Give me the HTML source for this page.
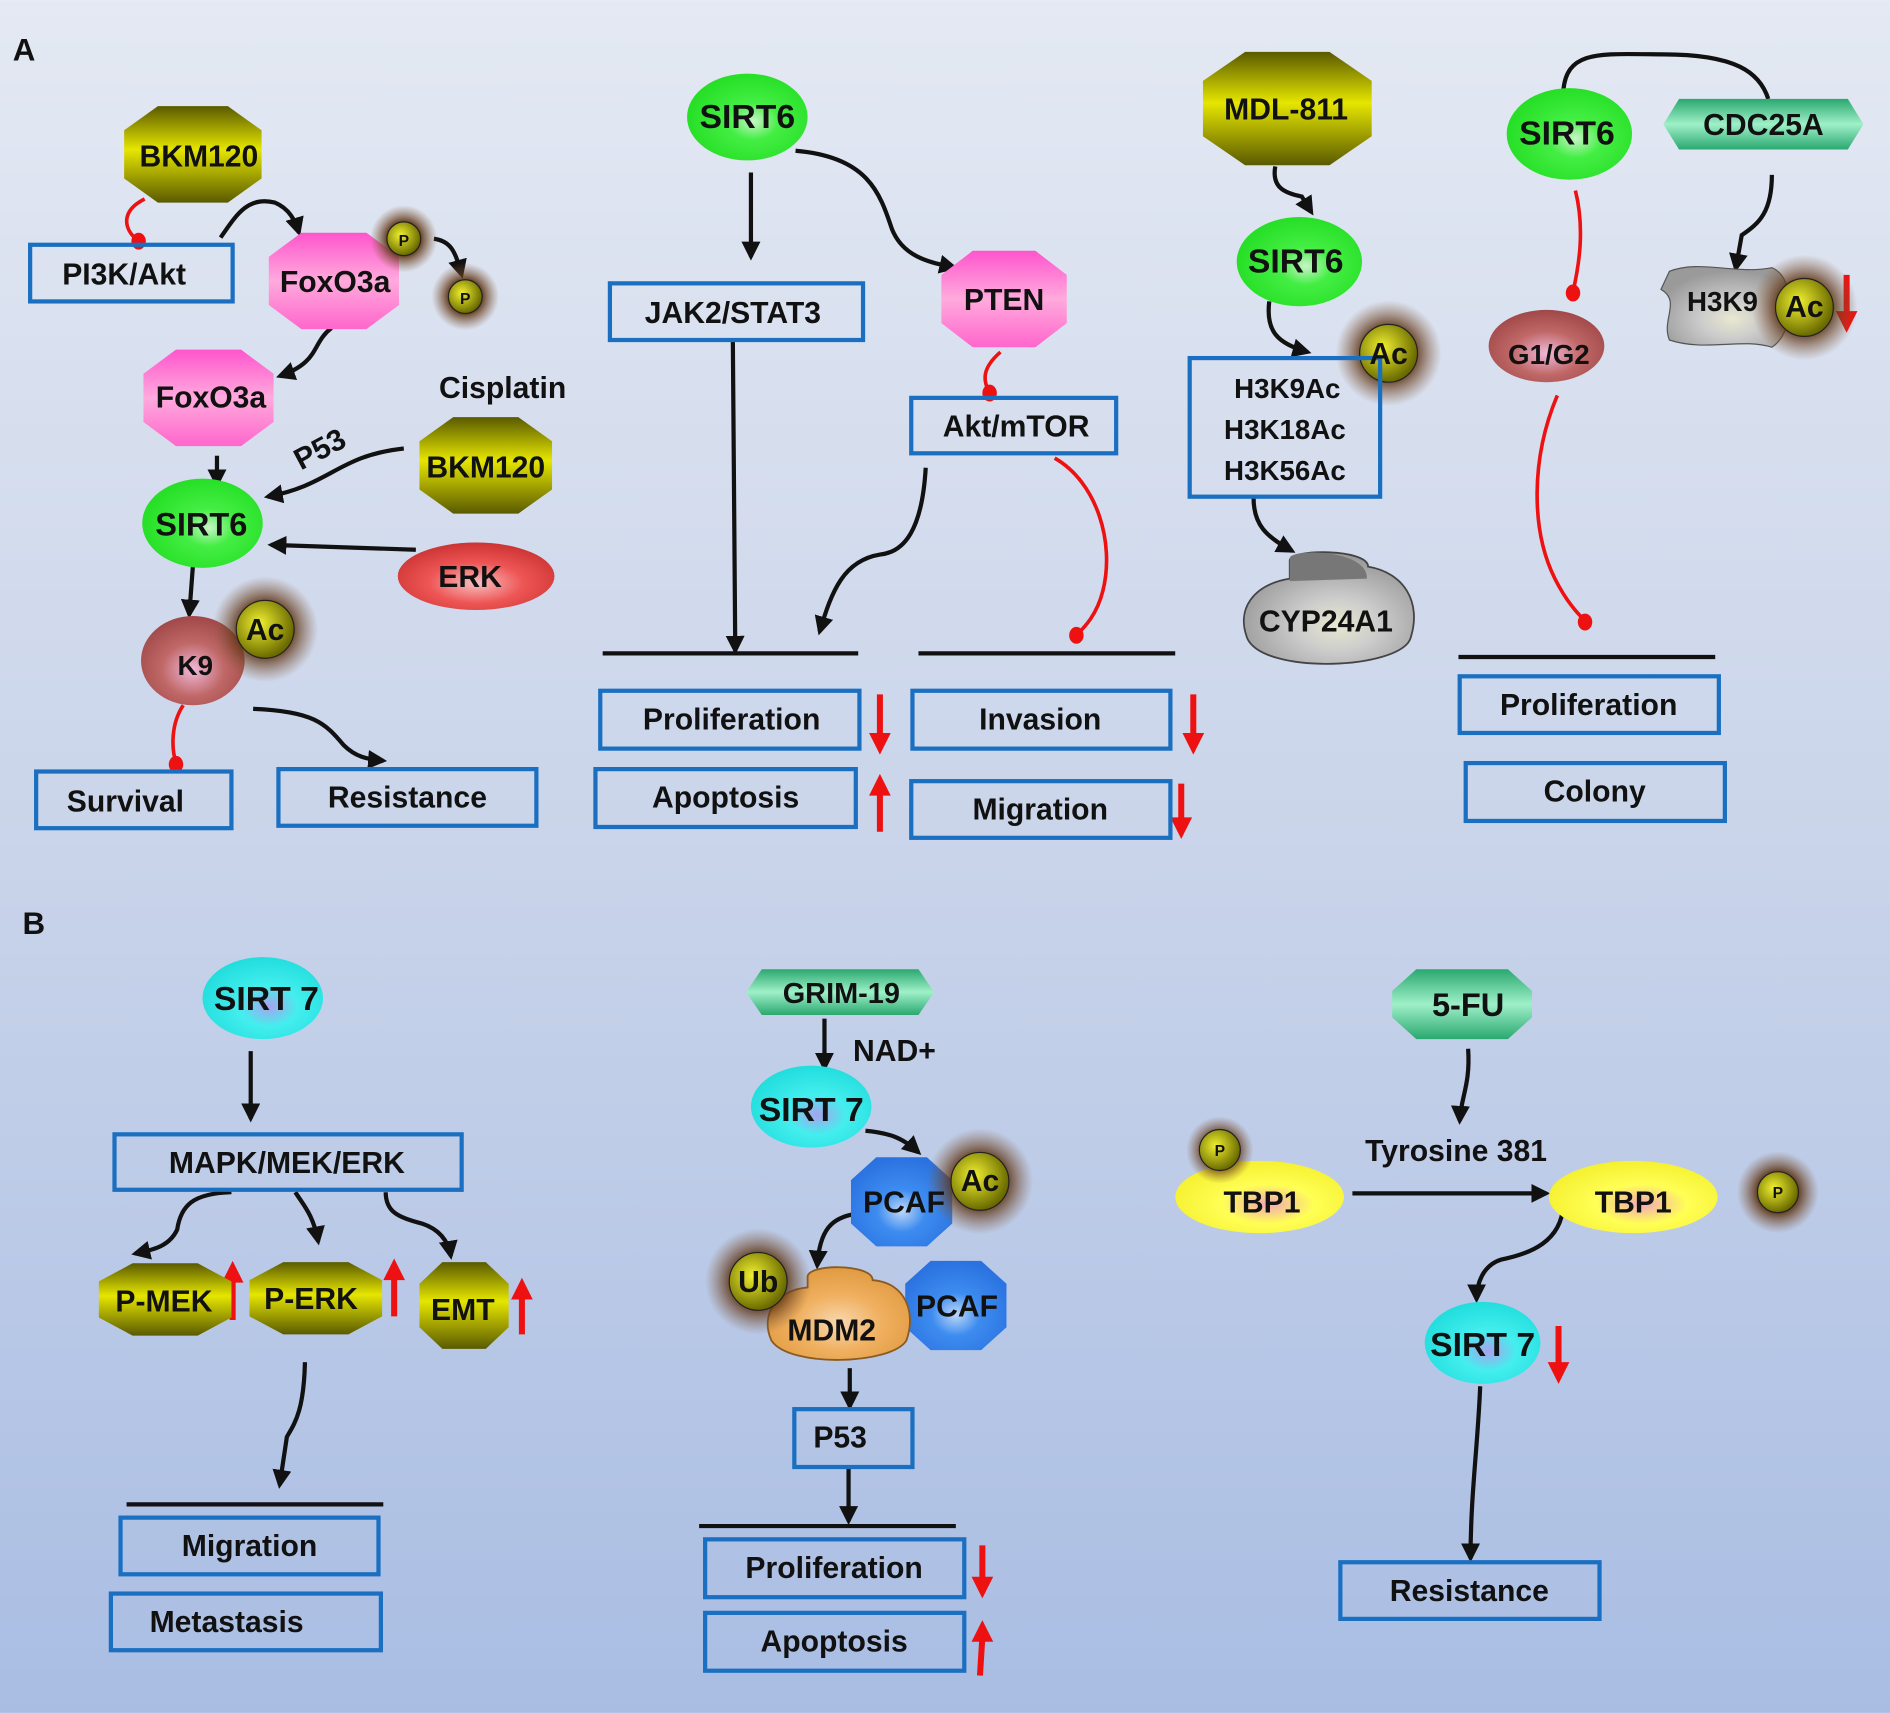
<!DOCTYPE html>
<html><head><meta charset="utf-8"><style>html,body{margin:0;padding:0}svg{display:block}text{font-family:"Liberation Sans",Arial,sans-serif;font-weight:bold;fill:#111}</style></head>
<body>
<svg width="1890" height="1713" viewBox="0 0 1568 1421" xmlns="http://www.w3.org/2000/svg">
<defs>
<linearGradient id="bg" x1="0" y1="0" x2="0" y2="1"><stop offset="0" stop-color="#e4e9f3"/><stop offset="0.5" stop-color="#c9d4ea"/><stop offset="1" stop-color="#a9bde3"/></linearGradient>
<linearGradient id="olive" x1="0" y1="0" x2="0" y2="1"><stop offset="0" stop-color="#5a5a00"/><stop offset="0.45" stop-color="#e6e600"/><stop offset="1" stop-color="#5a5a00"/></linearGradient>
<linearGradient id="pink" x1="0" y1="0" x2="0" y2="1"><stop offset="0" stop-color="#ff55cc"/><stop offset="0.5" stop-color="#ffaadd"/><stop offset="1" stop-color="#ff66cc"/></linearGradient>
<radialGradient id="green" cx="0.55" cy="0.55" r="0.6"><stop offset="0" stop-color="#c8f5c8"/><stop offset="0.35" stop-color="#44ee44"/><stop offset="1" stop-color="#22dd22"/></radialGradient>
<radialGradient id="cyan" cx="0.55" cy="0.6" r="0.6"><stop offset="0" stop-color="#a9a2ee"/><stop offset="0.4" stop-color="#44eeee"/><stop offset="1" stop-color="#22dddd"/></radialGradient>
<radialGradient id="blue" cx="0.5" cy="0.6" r="0.6"><stop offset="0" stop-color="#bfd8f8"/><stop offset="0.4" stop-color="#3d8cf0"/><stop offset="1" stop-color="#2a72e0"/></radialGradient>
<radialGradient id="yellow" cx="0.55" cy="0.6" r="0.6"><stop offset="0" stop-color="#f2a8b8"/><stop offset="0.45" stop-color="#ffff55"/><stop offset="1" stop-color="#f5f030"/></radialGradient>
<radialGradient id="red" cx="0.5" cy="0.6" r="0.6"><stop offset="0" stop-color="#f8c0c0"/><stop offset="0.5" stop-color="#ee5555"/><stop offset="1" stop-color="#cc3333"/></radialGradient>
<radialGradient id="redbrown" cx="0.5" cy="0.6" r="0.6"><stop offset="0" stop-color="#f0b8d8"/><stop offset="0.5" stop-color="#c06868"/><stop offset="1" stop-color="#a04848"/></radialGradient>
<radialGradient id="gray" cx="0.55" cy="0.65" r="0.6"><stop offset="0" stop-color="#e8e8d0"/><stop offset="0.4" stop-color="#cccccc"/><stop offset="1" stop-color="#9a9a9a"/></radialGradient>
<radialGradient id="orange" cx="0.5" cy="0.6" r="0.6"><stop offset="0" stop-color="#f8d8b0"/><stop offset="0.5" stop-color="#f0b060"/><stop offset="1" stop-color="#e09a40"/></radialGradient>
<linearGradient id="teal" x1="0" y1="0" x2="0" y2="1"><stop offset="0" stop-color="#2aa870"/><stop offset="0.5" stop-color="#9ff0c8"/><stop offset="1" stop-color="#2aa870"/></linearGradient>
<radialGradient id="ball" cx="0.4" cy="0.4" r="0.6"><stop offset="0" stop-color="#f0f030"/><stop offset="1" stop-color="#6a6a00"/></radialGradient>
<radialGradient id="halo"><stop offset="0.5" stop-color="#5a3010" stop-opacity="0.9"/><stop offset="1" stop-color="#8a6040" stop-opacity="0"/></radialGradient>
<radialGradient id="hl"><stop offset="0" stop-color="#fff" stop-opacity="0.9"/><stop offset="1" stop-color="#fff" stop-opacity="0"/></radialGradient>
<marker id="ar" viewBox="0 0 10 10" refX="8" refY="5" markerWidth="4.5" markerHeight="4.5" orient="auto"><path d="M0,0 L10,5 L0,10 z" fill="#111"/></marker>
</defs>
<rect width="1568" height="1421" fill="url(#bg)"/>

<g fill="none" stroke="#111" stroke-width="3.5" marker-end="url(#ar)">
<path d="M183,197 C195,180 205,162 228,168 C240,173 245,183 248,193"/>
<path d="M360,198 C375,200 378,210 383,228"/>
<path d="M275,272 C258,285 266,300 232,312"/>
<path d="M180,378 L180,402"/>
<path d="M335,372 C280,378 275,402 222,412"/>
<path d="M345,456 L225,452"/>
<path d="M160,470 L157,510"/>
<path d="M210,588 C260,590 270,600 285,618 C295,628 305,630 318,631"/>
<path d="M623,143 L623,213"/>
<path d="M660,125 C720,130 730,160 740,190 C750,215 775,218 792,222"/>
<path d="M608,283 L610,540"/>
<path d="M768,388 C765,440 750,458 730,460 C700,465 690,490 680,524"/>
<path d="M1058,138 C1055,155 1065,160 1080,163 L1088,176"/>
<path d="M1053,250 C1050,275 1060,285 1085,292"/>
<path d="M1040,413 C1040,435 1050,445 1072,457"/>
<path d="M1470,145 C1470,175 1460,185 1445,195 L1440,223"/>
<path d="M208,872 L208,928"/>
<path d="M192,989 C160,990 150,1000 147,1020 C140,1035 125,1037 112,1040"/>
<path d="M245,989 C252,1000 260,1008 264,1030"/>
<path d="M320,989 C320,1005 330,1010 350,1015 C365,1020 372,1030 374,1042"/>
<path d="M253,1130 C252,1170 245,1180 238,1192 L232,1232"/>
<path d="M684,845 L684,886"/>
<path d="M718,938 C740,940 750,945 762,956"/>
<path d="M710,1007 C690,1010 680,1020 678,1050"/>
<path d="M705,1135 L705,1167"/>
<path d="M704,1218 L704,1262"/>
<path d="M1218,870 C1220,900 1212,910 1211,930"/>
<path d="M1122,990 L1283,990"/>
<path d="M1297,1000 C1295,1030 1270,1040 1245,1045 C1230,1050 1225,1065 1225,1078"/>
<path d="M1228,1150 C1226,1200 1220,1240 1220,1293"/>
</g>
<path d="M1297,75 C1300,40 1330,45 1380,45 C1440,45 1460,60 1467,82" fill="none" stroke="#111" stroke-width="3.5"/>

<g fill="none" stroke="#ee1111" stroke-width="3">
<path d="M120,165 C100,175 102,190 115,200"/>
<path d="M152,585 C142,600 142,620 146,633"/>
<path d="M830,292 C815,305 815,315 821,326"/>
<path d="M875,380 C910,400 925,450 915,490 C910,510 900,520 893,527"/>
<path d="M1307,158 C1315,190 1310,220 1305,242"/>
<path d="M1292,328 C1270,380 1270,440 1290,480 C1300,500 1310,510 1315,515"/>
</g>
<g fill="#ee1111">
<ellipse cx="115" cy="200" rx="6" ry="7"/><ellipse cx="146" cy="634" rx="6" ry="7"/><ellipse cx="821" cy="326" rx="6" ry="7"/><ellipse cx="893" cy="527" rx="6" ry="7"/><ellipse cx="1305" cy="243" rx="6" ry="7"/><ellipse cx="1315" cy="516" rx="6" ry="7"/>
</g>

<g stroke="#111" stroke-width="3.5">
<line x1="500" y1="542" x2="712" y2="542"/><line x1="762" y1="542" x2="975" y2="542"/>
<line x1="1210" y1="545" x2="1423" y2="545"/><line x1="105" y1="1248" x2="318" y2="1248"/><line x1="580" y1="1266" x2="793" y2="1266"/>
</g>

<!-- red up/down arrows -->
<g stroke="#ee1111" stroke-width="5" fill="#ee1111">
<path d="M730,576 L730,612" fill="none"/><path d="M721,608 L739,608 L730,626 z" stroke="none"/>
<path d="M730,690 L730,656" fill="none"/><path d="M721,660 L739,660 L730,642 z" stroke="none"/>
<path d="M990,576 L990,612" fill="none"/><path d="M981,608 L999,608 L990,626 z" stroke="none"/>
<path d="M980,650 L980,682" fill="none"/><path d="M971,678 L989,678 L980,696 z" stroke="none"/>
<path d="M1532,228 L1532,262" fill="none"/><path d="M1523,258 L1541,258 L1532,276 z" stroke="none"/>
<path d="M193,1095 L193,1060" fill="none"/><path d="M184,1064 L202,1064 L193,1046 z" stroke="none"/>
<path d="M327,1092 L327,1058" fill="none"/><path d="M318,1062 L336,1062 L327,1044 z" stroke="none"/>
<path d="M433,1107 L433,1074" fill="none"/><path d="M424,1078 L442,1078 L433,1060 z" stroke="none"/>
<path d="M815,1282 L815,1312" fill="none"/><path d="M806,1308 L824,1308 L815,1326 z" stroke="none"/>
<path d="M813,1390 L815,1358" fill="none"/><path d="M806,1362 L824,1362 L815,1344 z" stroke="none"/>
<path d="M1293,1100 L1293,1134" fill="none"/><path d="M1284,1130 L1302,1130 L1293,1148 z" stroke="none"/>
</g>

<!-- octagons -->
<polygon points="131,88 189,88 217,108 217,148 189,168 131,168 103,148 103,108" fill="url(#olive)"/>
<polygon points="376,346 430,346 458,366 458,406 430,426 376,426 348,406 348,366" fill="url(#olive)"/>
<polygon points="1033,43 1103,43 1138,67 1138,113 1103,137 1033,137 998,113 998,67" fill="url(#olive)"/>
<polygon points="110,1048 164,1048 192,1063 192,1093 164,1108 110,1108 82,1093 82,1063" fill="url(#olive)"/>
<polygon points="235,1047 289,1047 317,1062 317,1092 289,1107 235,1107 207,1092 207,1062" fill="url(#olive)"/>
<polygon points="367,1047 403,1047 422,1065 422,1101 403,1119 367,1119 348,1101 348,1065" fill="url(#olive)"/>
<polygon points="250,193 304,193 331,213 331,253 304,273 250,273 223,253 223,213" fill="url(#pink)"/>
<polygon points="146,290 200,290 227,310 227,350 200,370 146,370 119,350 119,310" fill="url(#pink)"/>
<polygon points="807,208 859,208 885,228 885,268 859,288 807,288 781,268 781,228" fill="url(#pink)"/>
<polygon points="727,960 769,960 790,979 790,1015 769,1034 727,1034 706,1015 706,979" fill="url(#blue)"/>
<polygon points="772,1046 814,1046 835,1065 835,1101 814,1120 772,1120 751,1101 751,1065" fill="url(#blue)"/>
<polygon points="1393,82 1533,82 1546,103 1533,124 1393,124 1380,103" fill="url(#teal)"/>
<polygon points="632,804 762,804 775,823 762,842 632,842 619,823" fill="url(#teal)"/>
<polygon points="1175,804 1251,804 1271,822 1271,844 1251,862 1175,862 1155,844 1155,822" fill="url(#teal)"/>

<!-- blobs -->
<ellipse cx="168" cy="434" rx="50" ry="37" fill="url(#green)"/>
<ellipse cx="620" cy="97" rx="50" ry="36" fill="url(#green)"/>
<ellipse cx="1078" cy="217" rx="52" ry="37" fill="url(#green)"/>
<ellipse cx="1302" cy="111" rx="52" ry="38" fill="url(#green)"/>
<ellipse cx="395" cy="478" rx="65" ry="28" fill="url(#red)"/>
<ellipse cx="160" cy="548" rx="43" ry="37" fill="url(#redbrown)"/>
<ellipse cx="1283" cy="287" rx="48" ry="30" fill="url(#redbrown)"/>
<path d="M1385,225 C1410,215 1440,228 1470,222 C1490,230 1490,275 1470,288 C1445,280 1415,292 1385,282 C1378,265 1395,250 1378,240 z" fill="url(#gray)" stroke="#555" stroke-width="1"/>
<path d="M1070,465 C1070,455 1135,455 1135,470 C1165,475 1180,500 1170,530 C1160,555 1050,560 1035,530 C1025,505 1040,485 1070,480 z" fill="url(#gray)" stroke="#444" stroke-width="1.5"/>
<path d="M1070,463 C1070,455 1135,455 1134,480 L1070,482 z" fill="#777"/>
<ellipse cx="218" cy="828" rx="50" ry="34" fill="url(#cyan)"/>
<ellipse cx="673" cy="918" rx="50" ry="34" fill="url(#cyan)"/>
<ellipse cx="1230" cy="1114" rx="48" ry="34" fill="url(#cyan)"/>
<path d="M670,1060 C668,1048 724,1048 724,1062 C752,1064 760,1090 752,1112 C740,1132 655,1135 640,1112 C630,1090 645,1070 670,1068 z" fill="url(#orange)" stroke="#8a5a20" stroke-width="1.5"/>
<ellipse cx="1045" cy="993" rx="70" ry="30" fill="url(#yellow)"/>
<ellipse cx="1355" cy="993" rx="70" ry="30" fill="url(#yellow)"/>

<!-- halo balls -->
<g>
<circle cx="220" cy="522" r="44" fill="url(#halo)"/><circle cx="220" cy="522" r="24" fill="url(#ball)" stroke="#222"/>
<circle cx="1152" cy="293" r="44" fill="url(#halo)"/><circle cx="1152" cy="293" r="24" fill="url(#ball)" stroke="#222"/>
<circle cx="1497" cy="255" r="44" fill="url(#halo)"/><circle cx="1497" cy="255" r="24" fill="url(#ball)" stroke="#222"/>
<circle cx="813" cy="980" r="44" fill="url(#halo)"/><circle cx="813" cy="980" r="24" fill="url(#ball)" stroke="#222"/>
<circle cx="629" cy="1063" r="44" fill="url(#halo)"/><circle cx="629" cy="1063" r="24" fill="url(#ball)" stroke="#222"/>
<circle cx="335" cy="198" r="28" fill="url(#halo)"/><circle cx="335" cy="198" r="14" fill="url(#ball)" stroke="#222"/>
<circle cx="386" cy="246" r="28" fill="url(#halo)"/><circle cx="386" cy="246" r="14" fill="url(#ball)" stroke="#222"/>
<circle cx="1012" cy="954" r="28" fill="url(#halo)"/><circle cx="1012" cy="954" r="17" fill="url(#ball)" stroke="#222"/>
<circle cx="1475" cy="989" r="34" fill="url(#halo)"/><circle cx="1475" cy="989" r="17" fill="url(#ball)" stroke="#222"/>
</g>

<!-- boxes -->
<g fill="none" stroke="#1a6fc0" stroke-width="3.5">
<rect x="25" y="203" width="168" height="47"/>
<rect x="30" y="640" width="162" height="47"/>
<rect x="231" y="638" width="214" height="47"/>
<rect x="506" y="235" width="210" height="47"/>
<rect x="756" y="330" width="170" height="46"/>
<rect x="498" y="573" width="215" height="48"/>
<rect x="494" y="638" width="216" height="48"/>
<rect x="757" y="573" width="214" height="48"/>
<rect x="756" y="648" width="215" height="47"/>
<rect x="987" y="297" width="158" height="115"/>
<rect x="1211" y="561" width="215" height="47"/>
<rect x="1216" y="633" width="215" height="48"/>
<rect x="95" y="941" width="288" height="46"/>
<rect x="100" y="1259" width="214" height="47"/>
<rect x="92" y="1322" width="224" height="47"/>
<rect x="659" y="1169" width="98" height="48"/>
<rect x="585" y="1277" width="215" height="48"/>
<rect x="585" y="1338" width="215" height="48"/>
<rect x="1112" y="1296" width="215" height="47"/>
</g>

<!-- text -->
<g font-size="25" text-anchor="middle">
<text x="20" y="50" font-size="26">A</text>
<text x="28" y="775" font-size="26">B</text>
<text x="165" y="138">BKM120</text>
<text x="103" y="236">PI3K/Akt</text>
<text x="278" y="242">FoxO3a</text>
<text x="175" y="338">FoxO3a</text>
<text x="417" y="330">Cisplatin</text>
<text x="403" y="396">BKM120</text>
<text x="265" y="381" transform="rotate(-28 265 372)">P53</text>
<text x="167" y="444" font-size="27">SIRT6</text>
<text x="390" y="487">ERK</text>
<text x="162" y="560" font-size="23">K9</text>
<text x="220" y="531">Ac</text>
<text x="335" y="204" font-size="13" font-weight="normal">P</text>
<text x="386" y="252" font-size="13" font-weight="normal">P</text>
<text x="104" y="673" font-family="DejaVu Sans">Survival</text>
<text x="338" y="670" font-family="DejaVu Sans">Resistance</text>
<text x="620" y="106" font-size="28">SIRT6</text>
<text x="608" y="268">JAK2/STAT3</text>
<text x="833" y="257">PTEN</text>
<text x="843" y="362">Akt/mTOR</text>
<text x="607" y="605" font-family="DejaVu Sans">Proliferation</text>
<text x="602" y="670" font-family="DejaVu Sans">Apoptosis</text>
<text x="863" y="605" font-family="DejaVu Sans">Invasion</text>
<text x="863" y="680" font-family="DejaVu Sans">Migration</text>
<text x="1067" y="99">MDL-811</text>
<text x="1075" y="226" font-size="28">SIRT6</text>
<text x="1152" y="302">Ac</text>
<text x="1068" y="330" font-size="23">H3K9Ac</text>
<text x="1066" y="364" font-size="23">H3K18Ac</text>
<text x="1066" y="398" font-size="23">H3K56Ac</text>
<text x="1100" y="524">CYP24A1</text>
<text x="1300" y="120" font-size="28">SIRT6</text>
<text x="1463" y="112">CDC25A</text>
<text x="1285" y="302" font-size="23">G1/G2</text>
<text x="1429" y="258" font-size="23">H3K9</text>
<text x="1497" y="263">Ac</text>
<text x="1318" y="593" font-family="DejaVu Sans">Proliferation</text>
<text x="1323" y="665" font-family="DejaVu Sans">Colony</text>
<text x="221" y="838" font-size="28">SIRT 7</text>
<text x="238" y="973">MAPK/MEK/ERK</text>
<text x="136" y="1088">P-MEK</text>
<text x="258" y="1086">P-ERK</text>
<text x="384" y="1095">EMT</text>
<text x="207" y="1291" font-family="DejaVu Sans">Migration</text>
<text x="188" y="1354" font-family="DejaVu Sans">Metastasis</text>
<text x="698" y="832" font-size="24">GRIM-19</text>
<text x="742" y="880">NAD+</text>
<text x="673" y="930" font-size="28">SIRT 7</text>
<text x="750" y="1006">PCAF</text>
<text x="813" y="988">Ac</text>
<text x="629" y="1072">Ub</text>
<text x="690" y="1112">MDM2</text>
<text x="794" y="1092">PCAF</text>
<text x="697" y="1201">P53</text>
<text x="692" y="1309" font-family="DejaVu Sans">Proliferation</text>
<text x="692" y="1370" font-family="DejaVu Sans">Apoptosis</text>
<text x="1218" y="843" font-size="27">5-FU</text>
<text x="1208" y="963">Tyrosine 381</text>
<text x="1047" y="1006">TBP1</text>
<text x="1355" y="1006">TBP1</text>
<text x="1012" y="959" font-size="13" font-weight="normal">P</text>
<text x="1475" y="994" font-size="13" font-weight="normal">P</text>
<text x="1230" y="1125" font-size="28">SIRT 7</text>
<text x="1219" y="1328" font-family="DejaVu Sans">Resistance</text>
</g>
</svg>
</body></html>
